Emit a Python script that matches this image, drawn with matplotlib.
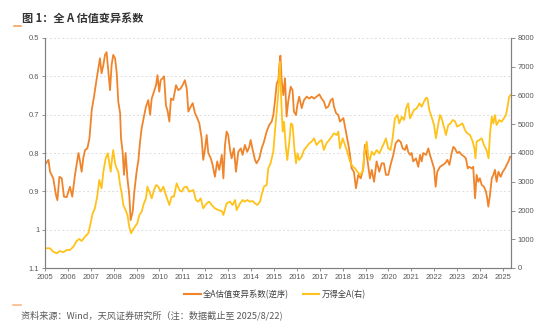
import matplotlib
matplotlib.use("Agg")
import matplotlib.pyplot as plt
from matplotlib.lines import Line2D

# ---- data (decimal year offsets from 2005, values) ----
cv_t = [0.04,0.15,0.22,0.36,0.48,0.54,0.63,0.73,0.83,0.95,1.09,1.19,1.31,1.46,1.53,1.60,1.67,1.75,1.85,1.94,
        2.04,2.14,2.26,2.33,2.40,2.47,2.55,2.62,2.69,2.77,2.84,2.91,2.98,3.06,3.13,3.20,3.28,3.32,3.39,3.45,
        3.52,3.60,3.68,3.74,3.83,3.90,4.00,4.08,4.15,4.22,4.32,4.41,4.51,4.59,4.66,4.76,4.85,4.91,4.99,5.05,
        5.14,5.20,5.28,5.36,5.43,5.50,5.60,5.72,5.82,5.92,6.01,6.11,6.19,6.26,
        6.33,6.45,6.55,6.65,6.74,6.84,6.91,6.99,7.06,7.13,7.24,7.32,7.42,7.52,7.61,7.72,7.79,7.86,7.93,8.00,
        8.08,8.15,8.25,8.34,8.44,8.55,8.63,8.73,8.83,8.92,8.98,9.07,9.17,9.24,9.36,9.46,9.56,9.68,9.79,9.90,
        9.97,10.04,10.12,10.19,10.23,10.28,10.34,10.41,10.48,10.55,10.62,10.73,10.81,10.87,10.96,11.02,11.10,
        11.21,11.31,11.43,11.54,11.64,11.75,11.86,11.98,12.08,12.18,12.27,12.37,12.48,12.56,12.62,12.71,12.81,
        12.88,13.03,13.14,13.25,13.32,13.39,13.49,13.58,13.68,13.79,13.90,13.97,14.05,14.12,14.19,14.27,14.37,
        14.48,14.60,14.70,14.80,14.89,14.99,15.09,15.21,15.31,15.43,15.53,15.62,15.72,15.79,15.86,15.94,16.01,
        16.08,16.20,16.30,16.38,16.45,16.52,16.64,16.74,16.81,16.88,16.99,17.06,17.13,17.25,17.37,17.47,17.57,
        17.66,17.76,17.83,17.90,18.00,18.09,18.20,18.30,18.38,18.46,18.53,18.63,18.70,18.78,18.85,18.92,18.99,
        19.07,19.17,19.26,19.31,19.36,19.43,19.51,19.58,19.65,19.72,19.80,19.90,19.99,20.09,20.16,20.24,20.31]
cv_v = [0.827,0.818,0.849,0.866,0.910,0.923,0.862,0.866,0.914,0.915,0.888,0.914,0.857,0.800,0.822,0.849,0.814,0.792,0.788,0.762,
        0.688,0.653,0.605,0.579,0.553,0.592,0.570,0.544,0.537,0.590,0.636,0.570,0.544,0.553,0.590,0.666,0.696,0.762,0.797,0.857,
        0.800,0.866,0.910,0.975,0.953,0.901,0.849,0.818,0.771,0.736,0.705,0.679,0.662,0.700,0.658,0.640,0.623,0.597,0.640,0.610,
        0.605,0.600,0.675,0.692,0.718,0.658,0.662,0.623,0.636,0.632,0.623,0.610,0.632,0.692,
        0.683,0.670,0.696,0.709,0.723,0.762,0.818,0.788,0.753,0.800,0.814,0.831,0.862,0.822,0.844,0.805,0.866,0.779,0.744,0.753,
        0.792,0.814,0.788,0.849,0.797,0.788,0.805,0.779,0.797,0.784,0.766,0.792,0.818,0.827,0.814,0.788,0.771,0.744,0.727,0.718,
        0.701,0.666,0.618,0.610,0.575,0.546,0.614,0.649,0.605,0.705,0.666,0.627,0.636,0.692,0.701,0.675,0.653,
        0.683,0.662,0.653,0.658,0.653,0.658,0.653,0.647,0.658,0.666,0.683,0.679,0.662,0.658,0.679,0.696,0.701,
        0.718,0.709,0.744,0.779,0.805,0.840,0.849,0.892,0.857,0.866,0.840,0.779,0.805,0.836,0.866,0.844,0.875,
        0.822,0.849,0.827,0.827,0.857,0.857,0.831,0.805,0.775,0.766,0.771,0.788,0.792,0.779,0.797,0.805,0.800,
        0.822,0.814,0.836,0.805,0.822,0.800,0.805,0.788,0.805,0.818,0.840,0.888,0.849,0.836,0.831,0.827,0.818,
        0.831,0.800,0.784,0.788,0.800,0.797,0.805,0.809,0.814,0.840,0.836,0.840,0.836,0.918,0.857,0.875,0.866,
        0.883,0.888,0.901,0.918,0.940,0.910,0.866,0.857,0.844,0.875,0.849,0.862,0.849,0.840,0.831,0.822,0.810]

wind_t = [0.04,0.22,0.36,0.51,0.65,0.80,0.95,1.09,1.24,1.38,1.50,1.60,1.75,1.89,1.99,2.08,2.18,2.29,2.37,2.47,
          2.55,2.65,2.74,2.81,2.87,2.93,2.98,3.06,3.13,3.20,3.28,3.35,3.42,3.49,3.60,3.68,3.76,3.83,3.93,4.03,
          4.12,4.22,4.32,4.41,4.47,4.56,4.66,4.76,4.85,4.95,5.05,5.17,5.28,5.43,5.53,5.63,5.75,5.87,5.97,6.07,
          6.19,6.30,
          6.48,6.59,6.69,6.80,6.91,7.06,7.17,7.28,7.42,7.57,7.72,7.79,7.93,8.08,8.19,8.30,8.37,8.52,8.63,8.73,
          8.83,8.95,9.07,9.17,9.27,9.39,9.46,9.56,9.68,9.75,9.85,9.97,10.04,10.12,10.19,10.26,10.32,10.38,10.44,
          10.51,10.58,10.67,10.74,10.81,10.89,10.96,11.03,11.10,11.21,11.31,11.43,11.54,11.64,11.75,11.86,11.98,
          12.08,12.18,12.29,12.41,12.52,12.62,12.74,12.81,
          12.88,13.00,13.10,13.20,13.32,13.44,13.54,13.64,13.76,13.87,13.97,14.05,14.12,14.19,14.27,14.37,14.48,
          14.60,14.70,14.80,14.89,14.99,15.09,15.18,15.28,15.39,15.47,15.58,15.68,15.77,15.86,15.94,16.01,16.11,
          16.23,16.35,16.45,16.55,16.64,16.70,16.78,16.88,16.99,17.07,17.18,17.25,17.32,17.42,17.51,17.61,17.71,
          17.80,17.90,18.00,18.12,18.23,18.34,18.44,18.56,18.68,18.75,18.80,18.85,18.97,19.07,19.17,19.28,19.37,
          19.43,19.51,19.58,19.65,19.72,19.84,19.94,20.04,20.13,20.20,20.27,20.33]
wind_v = [685,685,567,510,590,550,626,626,742,939,1009,939,1090,1206,1553,1901,2075,2539,3061,2772,
          3350,3814,3988,3641,3350,3814,4104,3641,3467,3350,2887,2597,2191,2075,1843,1437,1206,1322,1437,1553,
          1843,1959,2249,2423,2829,2655,2423,2713,2887,2829,2655,2829,2539,2191,2481,2481,2945,2713,2655,2800,
          2829,2655,
          2713,2365,2307,2423,2075,2249,2307,2191,2075,2017,1980,1843,2249,2307,2191,2365,2017,2249,2365,2307,
          2365,2307,2330,2249,2191,2307,2539,2829,2887,3467,3641,4046,4742,5437,6133,7176,5785,4742,5089,
          4278,3756,4394,5031,4973,4162,3641,3988,3756,3872,4104,4220,4336,4394,4510,4278,4394,
          4452,4104,4336,4452,4568,4684,4626,4742,
          4162,4510,4278,4046,3698,3524,3467,3350,3235,3350,4104,4394,3872,3756,4046,3930,4104,
          3988,4162,4336,4510,4162,4104,4510,5205,5321,5031,5263,5147,5553,5727,5205,5321,5495,
          5553,5727,5611,5785,5924,5900,5495,5263,4973,4510,5031,5321,5205,4915,4626,4973,5031,
          5147,5110,4915,4973,5031,4800,4684,4626,4394,4162,3814,4394,4452,4510,4278,4104,3814,
          4626,5263,5031,5321,4973,5147,5089,5205,5321,5611,5959,6017]

years = list(range(2005, 2026))
left_ticks = [0.5, 0.6, 0.7, 0.8, 0.9, 1.0, 1.1]
left_labels = ["0.5", "0.6", "0.7", "0.8", "0.9", "1", "1.1"]
right_ticks = list(range(0, 8001, 1000))

title = "图 1：全 A 估值变异系数"
source = "资料来源：Wind，天风证券研究所（注：数据截止至 2025/8/22)"
name_cv = "全A估值变异系数(逆序)"
name_wind = "万得全A(右)"

C_ORANGE = "#F0842A"
C_YELLOW = "#FFC21A"
GRAY = "#808080"
TXT = "#595959"

plt.rcParams['font.family'] = ['Liberation Sans', 'Noto Sans CJK SC', 'DejaVu Sans']

fig = plt.figure(figsize=(5.5, 3.28), dpi=100)
ax = fig.add_axes([45/550, 1-268/328, (511-45)/550, (268-38)/328])
ax2 = ax.twinx()

x_cv = [2005 + t for t in cv_t]
x_w = [2005 + t for t in wind_t]

ax.plot(x_cv, cv_v, color=C_ORANGE, lw=1.3, solid_joinstyle='round')
ax2.plot(x_w, wind_v, color=C_YELLOW, lw=1.3, solid_joinstyle='round')

ax.set_xlim(2005, 2025.35)
ax.set_ylim(1.1, 0.5)
ax2.set_ylim(0, 8000)

ax.set_yticks(left_ticks)
ax.set_yticklabels(left_labels)
ax2.set_yticks(right_ticks)
ax.set_xticks(years)
ax.set_xticklabels([str(y) for y in years])

for a in (ax, ax2):
    a.spines['top'].set_visible(False)
    for s in ('left', 'right', 'bottom'):
        a.spines[s].set_color(GRAY)
        a.spines[s].set_linewidth(0.8)
ax.tick_params(axis='both', labelsize=5.5, labelcolor=TXT, color=GRAY, length=2, width=0.6, pad=2)
ax2.tick_params(axis='y', labelsize=5.5, labelcolor=TXT, color=GRAY, length=3, width=0.6, pad=2)

for v in left_ticks[:-1]:
    ax.axhline(v, color="#d9d9d9", lw=0.6, ls=(0, (2.5, 2.5)), zorder=0)

# legend
handles = [Line2D([], [], color=C_ORANGE, lw=1.5), Line2D([], [], color=C_YELLOW, lw=1.5)]
fig.legend(handles, [name_cv, name_wind], loc='center', bbox_to_anchor=(275/550, 1-294.5/328),
           ncol=2, frameon=False, prop={'family': ['Noto Sans CJK SC'], 'size': 6},
           handlelength=2.0, handletextpad=0.3, columnspacing=1.6, labelcolor="#404040")

fig.text(22/550, 1-18.5/328, title, fontsize=8, fontweight='bold', color="#333333",
         va='center', ha='left', family=['Noto Sans CJK SC', 'DejaVu Sans'])
fig.add_artist(Line2D([14/550, 21/550], [1-26/328, 1-26/328], color="#F5A25D", lw=1.2))
fig.add_artist(Line2D([13/550, 21/550], [1-305/328, 1-305/328], color="#F8B888", lw=1.2))
fig.text(21/550, 1-315/328, source, fontsize=6.6, color=TXT, va='center', ha='left',
         family=['Noto Sans CJK SC', 'DejaVu Sans'])

fig.savefig("out.png", dpi=100, facecolor='white')
